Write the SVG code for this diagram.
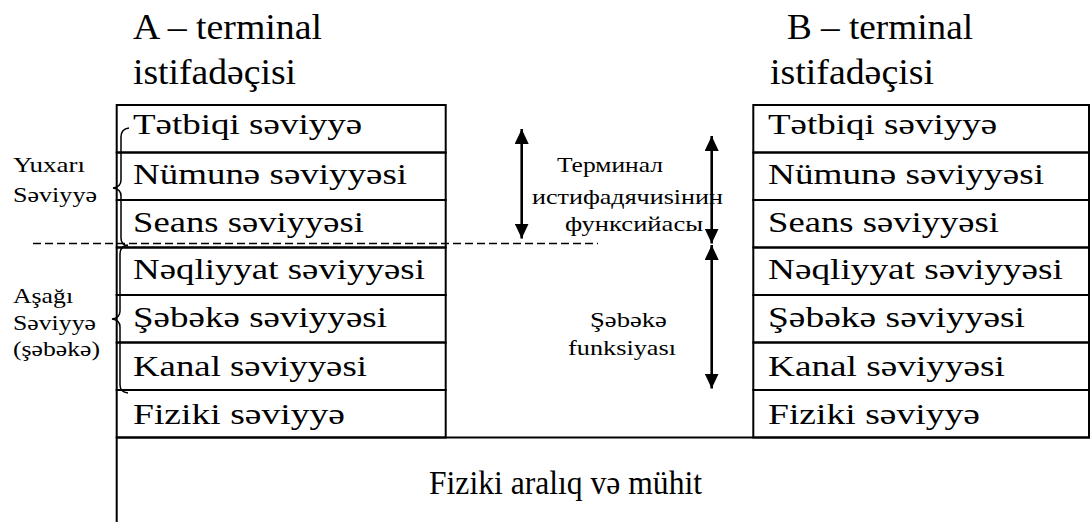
<svg xmlns="http://www.w3.org/2000/svg" width="1090" height="522" viewBox="0 0 1090 522">
  <style>
    .t { font-family: "Liberation Serif", "DejaVu Serif", serif; fill: #000; }
    .row { font-size: 28.5px; }
    .title { font-size: 35px; }
    .side { font-size: 20px; }
    .mid { font-size: 20px; }
    .cell { fill: none; stroke: #000; stroke-width: 2; }
    .brace { fill: none; stroke: #000; stroke-width: 1.5; }
    .dash { fill: none; stroke: #000; stroke-width: 1.4; stroke-dasharray: 8 4; }
    .arrow { fill: none; stroke: #000; stroke-width: 2.6; }
  </style>
  <defs>
    <marker id="head" markerUnits="userSpaceOnUse" markerWidth="15" markerHeight="14" refX="15" refY="7" orient="auto-start-reverse" viewBox="0 0 15 14">
      <path d="M0,0 L15,7 L0,14 Z" fill="#000"/>
    </marker>
  </defs>

  <rect width="1090" height="522" fill="#fff"/>

  <!-- headings of the two terminals -->
  <g id="title-a">
    <text class="t title" x="133" y="39" textLength="189" lengthAdjust="spacingAndGlyphs">A – terminal</text>
    <text class="t title" x="133" y="84" textLength="163" lengthAdjust="spacingAndGlyphs">istifadəçisi</text>
  </g>
  <g id="title-b">
    <text class="t title" x="787" y="39" textLength="186" lengthAdjust="spacingAndGlyphs">B – terminal</text>
    <text class="t title" x="770" y="84" textLength="164" lengthAdjust="spacingAndGlyphs">istifadəçisi</text>
  </g>

  <!-- layer stack of terminal A (layer names are set 1.3x wide) -->
  <g id="stack-a">
    <g id="a-application"><rect class="cell" x="116.7" y="105" width="329" height="47.5"/><text class="t row" transform="translate(133,134) scale(1.3,1)" textLength="176.2" lengthAdjust="spacingAndGlyphs">Tətbiqi səviyyə</text></g>
    <g id="a-presentation"><rect class="cell" x="116.7" y="152.5" width="329" height="47.5"/><text class="t row" transform="translate(133,184) scale(1.3,1)" textLength="210.8" lengthAdjust="spacingAndGlyphs">Nümunə səviyyəsi</text></g>
    <g id="a-session"><rect class="cell" x="116.7" y="200" width="329" height="47.5"/><text class="t row" transform="translate(133,231.5) scale(1.3,1)" textLength="177.7" lengthAdjust="spacingAndGlyphs">Seans səviyyəsi</text></g>
    <g id="a-transport"><rect class="cell" x="116.7" y="247.5" width="329" height="47.5"/><text class="t row" transform="translate(133,279) scale(1.3,1)" textLength="224.6" lengthAdjust="spacingAndGlyphs">Nəqliyyat səviyyəsi</text></g>
    <g id="a-network"><rect class="cell" x="116.7" y="295" width="329" height="47.5"/><text class="t row" transform="translate(133,327) scale(1.3,1)" textLength="195.4" lengthAdjust="spacingAndGlyphs">Şəbəkə səviyyəsi</text></g>
    <g id="a-link"><rect class="cell" x="116.7" y="342.5" width="329" height="47.5"/><text class="t row" transform="translate(133,375.5) scale(1.3,1)" textLength="180" lengthAdjust="spacingAndGlyphs">Kanal səviyyəsi</text></g>
    <g id="a-physical"><rect class="cell" x="116.7" y="390" width="329" height="47.5"/><text class="t row" transform="translate(133,423.5) scale(1.3,1)" textLength="163.1" lengthAdjust="spacingAndGlyphs">Fiziki səviyyə</text></g>
  </g>

  <!-- layer stack of terminal B -->
  <g id="stack-b">
    <g id="b-application"><rect class="cell" x="753.3" y="105" width="335.7" height="47.5"/><text class="t row" transform="translate(768,134) scale(1.3,1)" textLength="176.2" lengthAdjust="spacingAndGlyphs">Tətbiqi səviyyə</text></g>
    <g id="b-presentation"><rect class="cell" x="753.3" y="152.5" width="335.7" height="47.5"/><text class="t row" transform="translate(768,184) scale(1.3,1)" textLength="212.3" lengthAdjust="spacingAndGlyphs">Nümunə səviyyəsi</text></g>
    <g id="b-session"><rect class="cell" x="753.3" y="200" width="335.7" height="47.5"/><text class="t row" transform="translate(768,231.5) scale(1.3,1)" textLength="177.7" lengthAdjust="spacingAndGlyphs">Seans səviyyəsi</text></g>
    <g id="b-transport"><rect class="cell" x="753.3" y="247.5" width="335.7" height="47.5"/><text class="t row" transform="translate(768,279) scale(1.3,1)" textLength="226.9" lengthAdjust="spacingAndGlyphs">Nəqliyyat səviyyəsi</text></g>
    <g id="b-network"><rect class="cell" x="753.3" y="295" width="335.7" height="47.5"/><text class="t row" transform="translate(768,327) scale(1.3,1)" textLength="197.7" lengthAdjust="spacingAndGlyphs">Şəbəkə səviyyəsi</text></g>
    <g id="b-link"><rect class="cell" x="753.3" y="342.5" width="335.7" height="47.5"/><text class="t row" transform="translate(768,375.5) scale(1.3,1)" textLength="182.3" lengthAdjust="spacingAndGlyphs">Kanal səviyyəsi</text></g>
    <g id="b-physical"><rect class="cell" x="753.3" y="390" width="335.7" height="47.5"/><text class="t row" transform="translate(768,423.5) scale(1.3,1)" textLength="163.1" lengthAdjust="spacingAndGlyphs">Fiziki səviyyə</text></g>
  </g>

  <!-- shared physical medium below both stacks -->
  <g id="medium">
    <path class="cell" d="M116.7,522 V437.5 H1090"/>
    <text class="t" style="font-size:34px" x="429" y="494" textLength="273" lengthAdjust="spacingAndGlyphs">Fiziki aralıq və mühit</text>
  </g>

  <!-- grouping labels on the left -->
  <g id="upper-group">
    <text class="t side" transform="translate(13,171.5) scale(1.3,1)" textLength="55.4" lengthAdjust="spacingAndGlyphs">Yuxarı</text>
    <text class="t side" transform="translate(13,202) scale(1.3,1)" textLength="64.6" lengthAdjust="spacingAndGlyphs">Səviyyə</text>
    <path class="brace" d="M129,128 Q121,129 121,137 L121,180 Q121,187 113,188 Q121,189 121,196 L121,238 Q121,245 128,246"/>
  </g>
  <g id="lower-group">
    <text class="t side" transform="translate(13,303) scale(1.3,1)" textLength="46.2" lengthAdjust="spacingAndGlyphs">Aşağı</text>
    <text class="t side" transform="translate(13,330) scale(1.3,1)" textLength="63.8" lengthAdjust="spacingAndGlyphs">Səviyyə</text>
    <text class="t side" transform="translate(13,356) scale(1.3,1)" textLength="66.9" lengthAdjust="spacingAndGlyphs">(şəbəkə)</text>
    <path class="brace" d="M128,245 Q120,246 120,254 L120,311 Q120,318 112,319 Q120,320 120,327 L120,385 Q120,392 128,393"/>
  </g>

  <!-- function labels between the stacks -->
  <g id="user-function">
    <text class="t mid" transform="translate(557,172) scale(1.3,1)" textLength="81.5" lengthAdjust="spacingAndGlyphs">Терминал</text>
    <text class="t mid" transform="translate(532,204) scale(1.3,1)" textLength="146.9" lengthAdjust="spacingAndGlyphs">истифадячиsiнин</text>
    <text class="t mid" transform="translate(565,231) scale(1.3,1)" textLength="106.2" lengthAdjust="spacingAndGlyphs">функсийасы</text>
  </g>
  <g id="network-function">
    <text class="t mid" transform="translate(590,327) scale(1.3,1)" textLength="59.2" lengthAdjust="spacingAndGlyphs">Şəbəkə</text>
    <text class="t mid" transform="translate(568,355) scale(1.3,1)" textLength="83.1" lengthAdjust="spacingAndGlyphs">funksiyası</text>
  </g>

  <!-- connectors: level divider and span arrows -->
  <g id="connectors">
    <line class="dash" x1="33" y1="243.5" x2="598" y2="243.5"/>
    <line class="arrow" x1="521.7" y1="129" x2="521.7" y2="238.5" marker-start="url(#head)" marker-end="url(#head)"/>
    <line class="arrow" x1="711.7" y1="136" x2="711.7" y2="243.5" marker-start="url(#head)" marker-end="url(#head)"/>
    <line class="arrow" x1="711.7" y1="245" x2="711.7" y2="388.5" marker-start="url(#head)" marker-end="url(#head)"/>
  </g>
</svg>
